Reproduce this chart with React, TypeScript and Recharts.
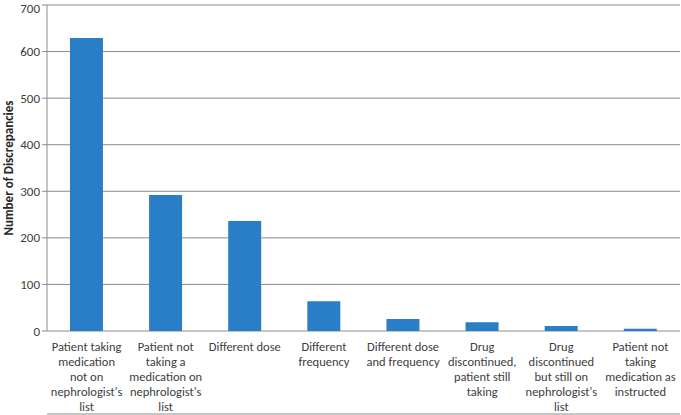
import React from "react";
import { BarChart, Bar, XAxis, YAxis, CartesianGrid, Label } from "recharts";

const categories: string[][] = [
  ["Patient taking", "medication", "not on", "nephrologist's", "list"],
  ["Patient not", "taking a", "medication on", "nephrologist's", "list"],
  ["Different dose"],
  ["Different", "frequency"],
  ["Different dose", "and frequency"],
  ["Drug", "discontinued,", "patient still", "taking"],
  ["Drug", "discontinued", "but still on", "nephrologist's", "list"],
  ["Patient not", "taking", "medication as", "instructed"],
];
const discrepancies = [629, 292, 236, 64, 26, 19, 11, 5];
const yTicks = [0, 100, 200, 300, 400, 500, 600, 700];
const boundaryTicks = [0, 1, 2, 3, 4, 5, 6, 7, 8];

const data = categories.map((lines, i) => ({
  key: String(i),
  lines,
  value: discrepancies[i],
}));

const FONT = "Carlito, Calibri, 'Liberation Sans', sans-serif";
const GRAY = "#8c8c8c";
const TEXT = "#404040";

const CatTick = (props: any) => {
  const { x, y, payload } = props;
  const lines = data[Number(payload.value)]?.lines ?? [];
  return (
    <text x={x} y={y} textAnchor="middle" fontFamily={FONT} fontSize={12.5} fill={TEXT}>
      {lines.map((l: string, i: number) => (
        <tspan key={i} x={x} dy={i === 0 ? 11.5 : 15.2}>
          {l}
        </tspan>
      ))}
    </text>
  );
};

const YLabel = (props: any) => {
  const vb = props.viewBox || {};
  const cx = (vb.x ?? 0) + 8;
  const cy = (vb.y ?? 0) + (vb.height ?? 0) / 2;
  return (
    <text
      x={cx}
      y={cy}
      transform={`rotate(-90, ${cx}, ${cy})`}
      textAnchor="middle"
      dominantBaseline="central"
      fontFamily={FONT}
      fontSize={13}
      fontWeight="bold"
      fill="#262626"
    >
      Number of Discrepancies
    </text>
  );
};

export default function App() {
  return (
    <div style={{ position: "absolute", left: 0, top: 0, width: 681, height: 415, background: "#fff" }}>
      <BarChart
        width={681}
        height={415}
        data={data}
        margin={{ top: 5, right: 1, left: 0, bottom: 0 }}
        barCategoryGap="29%"
      >
        <CartesianGrid vertical={false} stroke={GRAY} strokeWidth={1} />
        <XAxis
          xAxisId="edge"
          type="number"
          domain={[0, 8]}
          ticks={boundaryTicks}
          height={1}
          axisLine={{ stroke: GRAY }}
          tickLine={{ stroke: GRAY }}
          tickSize={5}
          tick={false}
          allowDataOverflow
        />
        <XAxis
          dataKey="key"
          xAxisId="cat"
          height={83}
          axisLine={false}
          tickLine={false}
          tick={<CatTick />}
          interval={0}
        />
        <YAxis
          width={47}
          domain={[0, 700]}
          ticks={yTicks}
          axisLine={{ stroke: GRAY }}
          tickLine={{ stroke: GRAY }}
          tickSize={5}
          tick={{ fontFamily: FONT, fontSize: 13, fill: TEXT }}
        >
          <Label content={<YLabel />} />
        </YAxis>
        <Bar dataKey="value" xAxisId="cat" fill="#2A7EC8" isAnimationActive={false} />
      </BarChart>
    </div>
  );
}
